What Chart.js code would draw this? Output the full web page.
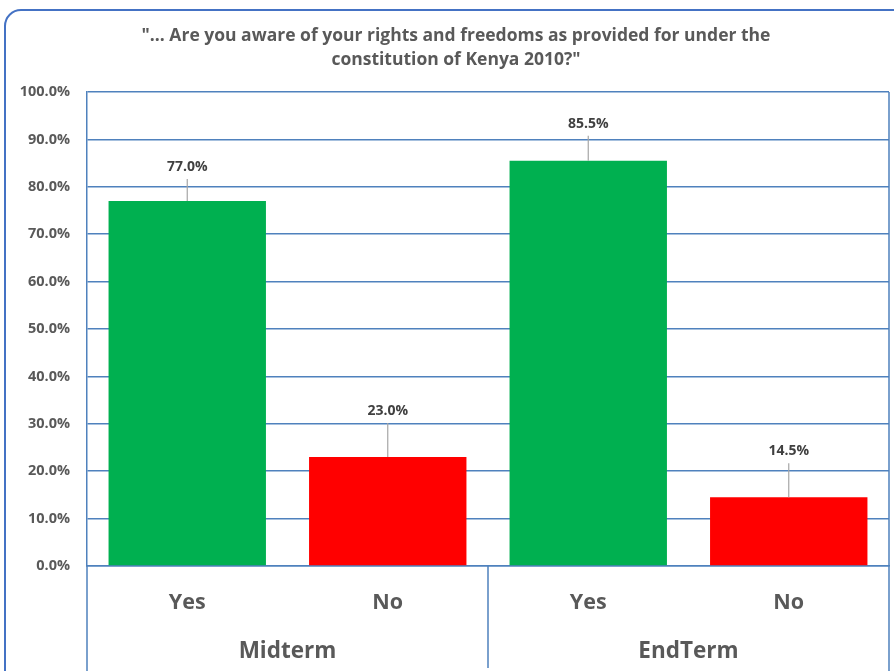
<!DOCTYPE html>
<html>
<head>
<meta charset="utf-8">
<script src="https://cdn.jsdelivr.net/npm/chart.js@4"></script>
<style>
  html, body { margin: 0; padding: 0; background: #fff; }
  #wrap { position: relative; width: 894px; height: 671px; }
</style>
</head>
<body>
<div id="wrap"><canvas id="awarenessChart" width="894" height="671"></canvas></div>
<script>
// chart data
const titleLines = ['"... Are you aware of your rights and freedoms as provided for under the', 'constitution of Kenya 2010?"'];
const answers = ['Yes', 'No', 'Yes', 'No'];
const rounds = ['Midterm', 'EndTerm'];
const percentages = [77.0, 23.0, 85.5, 14.5];
const barColours = ['#00b050', '#ff0000', '#00b050', '#ff0000'];
const labelLift = [34, 46, 37, 46];

const FONT = '"Open Sans", sans-serif';
const BLUE = '#4f81bd';
const GREY = '#595959';

// frame, title, grouped axis, data labels
const excelLook = {
    id: 'excelLook',
    beforeDraw(chart) {
        const ctx = chart.ctx;
        ctx.save();
        ctx.strokeStyle = '#4472c4';
        ctx.lineWidth = 2;
        ctx.beginPath();
        ctx.roundRect(5, 10, 920, 700, 16);
        ctx.stroke();

        ctx.fillStyle = GREY;
        ctx.font = 'bold 17.5px ' + FONT;
        ctx.textAlign = 'center';
        ctx.textBaseline = 'middle';
        ctx.fillText(titleLines[0], 456, 36);
        ctx.fillText(titleLines[1], 456, 60);
        ctx.restore();
    },
    afterDraw(chart) {
        const ctx = chart.ctx;
        const area = chart.chartArea;
        const x = chart.scales.x;
        const y = chart.scales.y;
        ctx.save();

        // plot area right edge and group separators
        ctx.strokeStyle = BLUE;
        ctx.lineWidth = 1.5;
        ctx.beginPath();
        ctx.moveTo(area.right, area.top);
        ctx.lineTo(area.right, 671);
        const mid = (x.getPixelForValue(1) + x.getPixelForValue(2)) / 2;
        ctx.moveTo(mid, area.bottom);
        ctx.lineTo(mid, 668);
        ctx.moveTo(area.left, area.bottom);
        ctx.lineTo(area.left, 671);
        ctx.stroke();

        // group labels
        ctx.fillStyle = GREY;
        ctx.font = 'bold 22.5px ' + FONT;
        ctx.textAlign = 'center';
        ctx.textBaseline = 'middle';
        ctx.fillText(rounds[0], (area.left + mid) / 2, 652);
        ctx.fillText(rounds[1], (mid + area.right) / 2, 652);

        // data labels with leader lines
        const meta = chart.getDatasetMeta(0);
        meta.data.forEach((bar, i) => {
            const top = y.getPixelForValue(percentages[i]);
            const ly = top - labelLift[i];
            ctx.strokeStyle = '#a6a6a6';
            ctx.lineWidth = 1.2;
            ctx.beginPath();
            ctx.moveTo(bar.x, ly + 12);
            ctx.lineTo(bar.x, top);
            ctx.stroke();
            ctx.fillStyle = '#404040';
            ctx.font = 'bold 14px ' + FONT;
            ctx.fillText(percentages[i].toFixed(1) + '%', bar.x, ly);
        });
        ctx.restore();
    }
};

new Chart(document.getElementById('awarenessChart'), {
    type: 'bar',
    data: {
        labels: answers,
        datasets: [{
            data: percentages,
            backgroundColor: barColours,
            borderWidth: 0,
            barPercentage: 0.785,
            categoryPercentage: 1
        }]
    },
    options: {
        responsive: false,
        animation: false,
        layout: { padding: { top: 92, right: 5, left: 10, bottom: 0 } },
        plugins: {
            legend: { display: false },
            tooltip: { enabled: false }
        },
        scales: {
            y: {
                min: 0,
                max: 100,
                ticks: {
                    stepSize: 10,
                    color: GREY,
                    font: { family: FONT, size: 14.5, weight: 'bold' },
                    padding: 17,
                    callback: v => v.toFixed(1) + '%'
                },
                grid: { color: BLUE, lineWidth: 1.5, drawTicks: false },
                border: { color: BLUE, width: 1.5 },
                afterFit: s => { s.width = 77; }
            },
            x: {
                ticks: {
                    color: GREY,
                    font: { family: FONT, size: 21.5, weight: 'bold' },
                    padding: 16
                },
                grid: { display: false },
                border: { color: BLUE, width: 1.5 },
                afterFit: s => { s.height = 105; }
            }
        }
    },
    plugins: [excelLook]
});
</script>
</body>
</html>
